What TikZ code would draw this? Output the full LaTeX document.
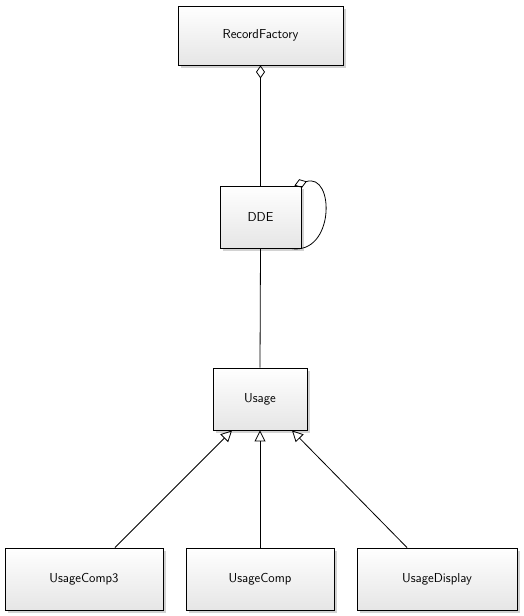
\documentclass[tikz,border=0pt]{standalone}
\usetikzlibrary{arrows.meta,shadows}
\begin{document}
\begin{tikzpicture}[x=1pt,y=-1pt,
  cls/.style={draw=black, line width=0.9pt, top color=white, bottom color=black!10,
    drop shadow={shadow xshift=2.5pt, shadow yshift=-2.5pt, fill=black!35, opacity=0.5},
    font=\sffamily\fontsize{13}{15}\selectfont, inner sep=0pt, anchor=center},
  conn/.style={line width=0.8pt, black},
  gen/.style={conn, -{Triangle[open, length=11pt, width=11pt]}},
  agg/.style={conn, {Diamond[open, length=13pt, width=9pt]}-}]
\useasboundingbox (0,0) rectangle (523,616);
\node[cls, minimum width=165pt, minimum height=59pt] (rf) at (260.5,35.5) {RecordFactory};
\node[cls, minimum width=81pt, minimum height=62pt] (dde) at (260.5,217) {DDE};
\node[cls, minimum width=94pt, minimum height=62pt] (usage) at (260,399) {Usage};
\node[cls, minimum width=158pt, minimum height=62pt] (uc3) at (84,579) {UsageComp3};
\node[cls, minimum width=148pt, minimum height=62pt] (uc) at (260,579) {UsageComp};
\node[cls, minimum width=160pt, minimum height=62pt] (ud) at (437,579) {UsageDisplay};
\draw[agg] (rf.south) -- (dde.north);
\draw[agg] ([xshift=-7pt]dde.north east) .. controls (335,172) and (335,256) .. ([xshift=-11pt]dde.south east);
\draw[conn] (dde.south) -- (usage.north);
\draw[gen] ([xshift=31pt]uc3.north) -- ([xshift=-28pt]usage.south);
\draw[gen] (uc.north) -- (usage.south);
\draw[gen] ([xshift=-30pt]ud.north) -- ([xshift=32pt]usage.south);
\end{tikzpicture}
\end{document}
